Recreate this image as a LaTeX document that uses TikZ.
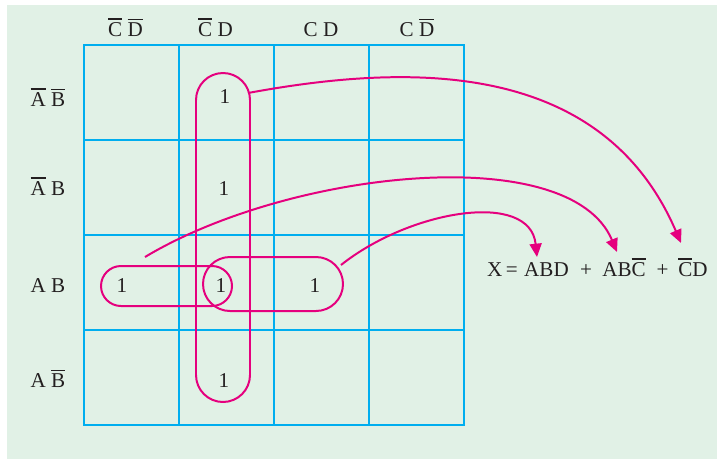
\documentclass[tikz,border=0pt]{standalone}
\usepackage{fontspec}
\setmainfont{Liberation Serif}
\usetikzlibrary{arrows.meta,calc}
\definecolor{kmapgrid}{HTML}{00AEEF}
\definecolor{kmaploop}{HTML}{E5007E}
\definecolor{kmapbg}{HTML}{E1F1E6}
\definecolor{kmaptext}{HTML}{231F20}
\newcommand{\nbar}[1]{\vbox{\hrule height 1.3pt\kern 1.8pt\hbox{#1}}}
\tikzset{
  cellgrid/.style={draw=kmapgrid, line width=2.2pt},
  varlab/.style={text=kmaptext, inner sep=1pt, anchor=base},
  onecell/.style={text=kmaptext, inner sep=1pt, anchor=base},
  termlab/.style={text=kmaptext, inner sep=1pt, anchor=base},
  loopbox/.style={rectangle, draw=kmaploop, line width=1.7pt, inner sep=0pt},
  mapflow/.style={-{Triangle[length=4mm, width=3.6mm]}, draw=kmaploop,
    line width=1.7pt},
}
\begin{document}
\begin{tikzpicture}[x=0.3mm, y=-0.3mm, font=\fontsize{18}{21}\selectfont]
% background and page size
\useasboundingbox (0,0) rectangle (717,459);
\fill[kmapbg] (7,5) rectangle (717,459);
% map cells
\draw[cellgrid] (84,45) rectangle (464,425);
\draw[cellgrid] (179,45) -- (179,425);
\draw[cellgrid] (274,45) -- (274,425);
\draw[cellgrid] (369,45) -- (369,425);
\draw[cellgrid] (84,140) -- (464,140);
\draw[cellgrid] (84,235) -- (464,235);
\draw[cellgrid] (84,330) -- (464,330);
% column and row variables
\node[varlab] (cnn) at (125.5,36) {\nbar{C} \nbar{D}};
\node[varlab] (cnd) at (215.5,36) {\nbar{C} D};
\node[varlab] (ccd) at (321,36) {C D};
\node[varlab] (ccn) at (417,36) {C \nbar{D}};
\node[varlab] (rnn) at (48,106) {\nbar{A} \nbar{B}};
\node[varlab] (rnb) at (48,195) {\nbar{A} B};
\node[varlab] (rab) at (48,292) {A B};
\node[varlab] (ran) at (48,387) {A \nbar{B}};
% cell entries
\node[onecell] (one1) at (225,103) {1};
\node[onecell] (one2) at (224,195) {1};
\node[onecell] (one3) at (122,292) {1};
\node[onecell] (one4) at (221,292) {1};
\node[onecell] (one5) at (315,292) {1};
\node[onecell] (one6) at (224,387) {1};
% groups of ones
\node[loopbox, minimum width=16.2mm, minimum height=98.7mm,
  rounded corners=8.1mm] (quad) at (223,237.5) {};
\node[loopbox, minimum width=39.3mm, minimum height=12mm,
  rounded corners=6mm] (paira) at (166.5,286) {};
\node[loopbox, minimum width=42mm, minimum height=16.2mm,
  rounded corners=8.1mm] (pairb) at (273,284) {};
% simplified expression
\node[termlab] (lhs) at (502.5,276) {X\,=};
\node[termlab] (tabd) at (546.5,276) {ABD};
\node[termlab] (plusa) at (586,276) {+};
\node[termlab] (tabc) at (624,276) {AB\nbar{C}};
\node[termlab] (plusb) at (662.5,276) {+};
\node[termlab] (tcd) at (693,276) {\nbar{C}D};
% connectors from groups to terms
\coordinate (abcstart) at (145,257);
\draw[mapflow] ($(quad.north east)+(-3,21)$) .. controls (400,65) and (600,55)
  .. ($(tcd.base)+(-12,-33)$);
\draw[mapflow] (abcstart) .. controls (290,170) and (570,140)
  .. ($(tabc.base)+(-7,-24)$);
\draw[mapflow] ($(pairb.north east)+(-3,9)$) .. controls (410,210) and (530,190)
  .. ($(tabd.base)+(-9.5,-19)$);
\end{tikzpicture}
\end{document}
